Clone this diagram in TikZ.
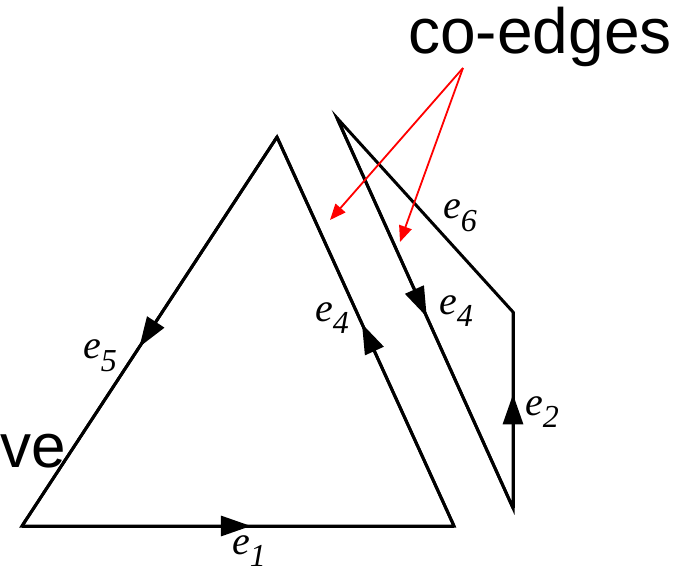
\documentclass[tikz,border=0pt]{standalone}
\usepackage{fontspec}
\setmainfont{Liberation Serif}
\newfontfamily\helv{Liberation Sans}
\usetikzlibrary{arrows.meta,decorations.markings}

% edge label: italic e with a lowered index
\newcommand{\edgelbl}[1]{\textit{e}\raisebox{-0.32em}{\fontsize{32}{32}\selectfont\textit{#1}}}

\begin{document}
\begin{tikzpicture}[x=1pt, y=-1pt,
  loopline/.style={line width=3pt, line join=miter, black},
  midarrow/.style={postaction={decorate}, decoration={markings,
    mark=at position #1 with {\arrow{Triangle[length=30pt,width=20pt]}}}},
  elbl/.style={inner sep=0pt, font=\fontsize{40}{40}\selectfont},
  pointer/.style={red, line width=1.8pt, -{Triangle[length=16pt,width=13pt]}}]

\useasboundingbox (0,0) rectangle (685,570);

% ========== Left loop: e1, e4, e5 ==========
\coordinate (A) at (22,526);
\coordinate (B) at (454,526);
\coordinate (C) at (277,137);
\draw[loopline] (A) -- (B) -- (C) -- cycle;
\draw[loopline, midarrow=0.53] (A) -- (B);
\draw[loopline, midarrow=0.52] (B) -- (C);
\draw[loopline, midarrow=0.54] (C) -- (A);

\node[elbl] (e1) at (249,551) {\edgelbl{1}};
\node[elbl] (e4a) at (332,318) {\edgelbl{4}};
\node[elbl] (e5) at (100,356) {\edgelbl{5}};

% ========== Right loop: e4, e6, e2 ==========
\coordinate (D) at (337,118);
\coordinate (E) at (513,312);
\coordinate (F) at (513,508);
\draw[loopline] (D) -- (E) -- (F) -- cycle;
\draw[loopline, midarrow=0.51] (D) -- (F);
\draw[loopline, midarrow=0.58] (F) -- (E);

\node[elbl] (e4b) at (456,311) {\edgelbl{4}};
\node[elbl] (e6) at (460,216) {\edgelbl{6}};
\node[elbl] (e2) at (542,412) {\edgelbl{2}};

% ========== Callout ==========
\node[font=\helv\fontsize{64}{70}\selectfont, inner sep=0pt, anchor=base] (coedges) at (540,53) {co-edges};
\coordinate (fork) at (463,68);
\coordinate (tipa) at (330,220);
\coordinate (tipb) at (400,242);
\draw[pointer] (fork) -- (tipa);
\draw[pointer] (fork) -- (tipb);

% clipped word at the left margin
\node[font=\helv\fontsize{62}{70}\selectfont, inner sep=0pt, anchor=base east] (cut) at (66,467) {ve};

\end{tikzpicture}
\end{document}
